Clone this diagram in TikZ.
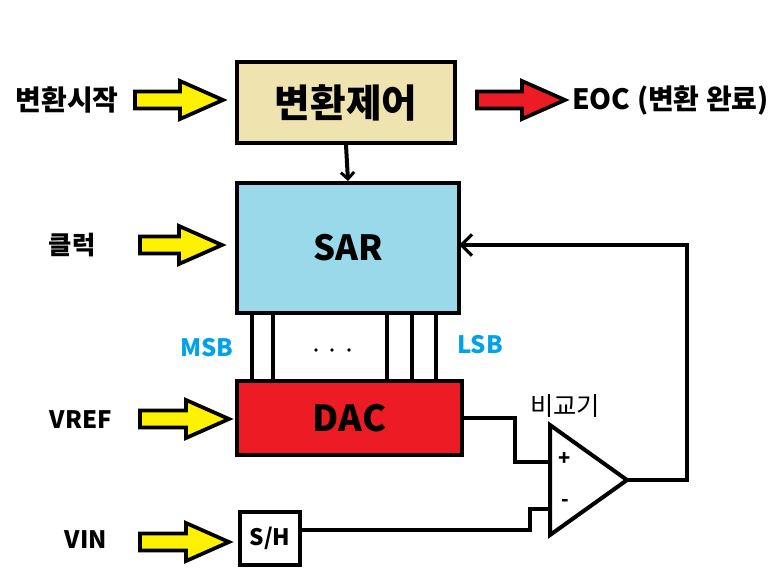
\documentclass[tikz,border=0pt]{standalone}
\usepackage{fontspec}
\setmainfont{Noto Sans CJK KR}
\usetikzlibrary{arrows.meta}
\definecolor{wheatc}{HTML}{EFE4B0}
\definecolor{sarc}{HTML}{99D9EA}
\definecolor{dacc}{HTML}{ED1C24}
\definecolor{yelc}{HTML}{FFF200}
\definecolor{bluec}{HTML}{00A2E8}
\newcommand{\fatarrow}[5]{% name, x1, x2, y, color
  \draw[line width=2.8pt, fill=#5, line join=miter]
    (#2,#4-8.5) -- (#3-43,#4-8.5) -- (#3-43,#4-19) -- (#3,#4) -- (#3-43,#4+19)
    -- (#3-43,#4+8.5) -- (#2,#4+8.5) -- cycle;
  \coordinate (#1) at (#3,#4);}
\begin{document}
\begin{tikzpicture}[x=0.75pt,y=-0.75pt,
  blk/.style={draw, line width=3pt, inner sep=0pt},
  wire/.style={line width=3pt},
  lbl/.style={font=\bfseries\fontsize{18}{20}\selectfont, inner sep=0pt}]
\useasboundingbox (0,0) rectangle (781,578);
% boxes
\node[blk, fill=wheatc, minimum width=218*0.75pt, minimum height=81*0.75pt,
  font=\bfseries\fontsize{29}{32}\selectfont] (ctl) at (346,102.5) {변환제어};
\node[blk, fill=sarc, minimum width=222*0.75pt, minimum height=130*0.75pt,
  font=\bfseries\fontsize{26}{28}\selectfont] (sar) at (348,248) {SAR};
\node[blk, fill=dacc, minimum width=225*0.75pt, minimum height=74*0.75pt,
  font=\bfseries\fontsize{27}{28}\selectfont] (dac) at (349.5,418) {DAC};
\node[blk, fill=white, minimum width=60*0.75pt, minimum height=53*0.75pt,
  font=\bfseries\fontsize{17}{20}\selectfont] (sh) at (270,538.5) {S/H};
% comparator
\coordinate (ct) at (550,425);
\coordinate (cb) at (550,535);
\coordinate (cout) at (627,480);
\draw[wire, line join=miter] (ct) -- (cout) -- (cb) -- cycle;
\node[font=\bfseries\fontsize{15}{16}\selectfont] (plus) at (565,459) {+};
\node[font=\bfseries\fontsize{15}{16}\selectfont] (minus) at (565,503) {-};
\node[font=\fontsize{19}{20}\selectfont] (cmpl) at (565,406) {비교기};
% bus lines
\foreach \xx/\nm in {252/b1,273/b2,387/b3,412/b4,436/b5}{
  \coordinate (\nm t) at (\xx,313);
  \coordinate (\nm b) at (\xx,381);
  \draw[wire] (\nm t) -- (\nm b);}
\foreach \xx in {316,332,349}{\fill (\xx,350) circle (1.8);}
\node[lbl, text=bluec] (msb) at (207,348) {MSB};
\node[lbl, text=bluec] (lsb) at (480,345) {LSB};
% wires
\draw[wire, -{Straight Barb[length=5pt,width=10pt,line width=2.2pt]}] (ctl.south) -- (sar.north);
\coordinate (dacout) at (462,418);
\coordinate (pin) at (550,462);
\draw[wire] (dacout) -- (515,418) -- (515,462) -- (pin);
\coordinate (shout) at (300,530);
\coordinate (nin) at (550,509);
\draw[wire] (shout) -- (530,530) -- (530,509) -- (nin);
\coordinate (fb) at (459,245);
\draw[wire, -{Straight Barb[length=8pt,width=16pt,line width=2.4pt]}] (cout) -- (687,480) -- (687,245) -- (fb);
% fat arrows and labels
\fatarrow{a1}{135}{223}{100}{yelc}
\node[lbl, font=\bfseries\fontsize{21}{22}\selectfont] (l1) at (67,100) {변환시작};
\fatarrow{a2}{140}{222}{245}{yelc}
\node[lbl, font=\bfseries\fontsize{19}{22}\selectfont] (l2) at (72,245) {클럭};
\fatarrow{a3}{140}{229}{419}{yelc}
\node[lbl] (l3) at (81,420) {VREF};
\fatarrow{a4}{140}{229}{542}{yelc}
\node[lbl] (l4) at (86,540) {VIN};
\fatarrow{a5}{477}{565}{100}{dacc}
\node[lbl, anchor=west, font=\bfseries\fontsize{21}{22}\selectfont] (l5) at (572,100) {EOC (변환 완료)};
\end{tikzpicture}
\end{document}
